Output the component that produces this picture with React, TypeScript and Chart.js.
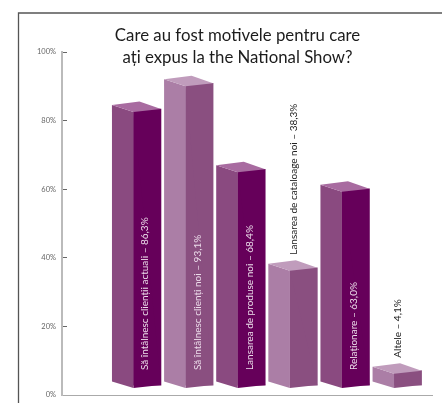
import React, { useEffect, useRef } from "react";
import { Chart, registerables } from "chart.js";

Chart.register(...registerables);

const titleLines = ["Care au fost motivele pentru care", "ați expus la the National Show?"];
const categories = [
  "Să întâlnesc clienții actuali",
  "Să întâlnesc clienți noi",
  "Lansarea de produse noi",
  "Lansarea de cataloage noi",
  "Relaționare",
  "Altele",
];
const labelPercents = ["86,3", "93,1", "68,4", "38,3", "63,0", "4,1"];
const barTops = [83.4, 90.9, 65.8, 37.1, 60.1, 7.1];
const barPositions = [1, 2, 3, 4, 5, 6];
const yTicks = [0, 20, 40, 60, 80, 100];
const labelInside = [true, true, true, false, true, false];

const darkSet = { front: "#66005a", side: "#8a4a80", top: "#a86ba0" };
const lightSet = { front: "#8a4f80", side: "#ab7ea6", top: "#c09cbc" };
const barSets = [darkSet, lightSet, darkSet, lightSet, darkSet, lightSet];

const FONT = "Lato";

const poly = (ctx: CanvasRenderingContext2D, pts: number[][], color: string) => {
  ctx.fillStyle = color;
  ctx.beginPath();
  pts.forEach(([x, y], i) => (i ? ctx.lineTo(x, y) : ctx.moveTo(x, y)));
  ctx.closePath();
  ctx.fill();
};

const framePlugin = {
  id: "frame",
  beforeDraw(chart: any) {
    const { ctx, width, height } = chart;
    ctx.save();
    ctx.fillStyle = "#fff";
    ctx.fillRect(0, 0, width, height);
    ctx.strokeStyle = "#555";
    ctx.lineWidth = 1.3;
    ctx.beginPath();
    ctx.moveTo(18.5, height);
    ctx.lineTo(18.5, 13);
    ctx.lineTo(width, 13);
    ctx.stroke();
    ctx.restore();
  },
};

const prismPlugin = {
  id: "prism",
  afterDatasetsDraw(chart: any) {
    const { ctx } = chart;
    const meta = chart.getDatasetMeta(0);
    ctx.save();
    meta.data.forEach((bar: any, i: number) => {
      const set = barSets[i];
      const w = bar.width;
      const r = bar.x + w / 2;
      const l = bar.x - w / 2;
      const t = bar.y;
      const b = bar.base;
      const sd = 21.5;
      poly(ctx, [[l, t + 3], [l, b + 3], [r, b]], set.front);
      poly(ctx, [[l - sd, t - 4], [l, t + 3], [l, b + 3], [l - sd, b - 3.5]], set.side);
      poly(ctx, [[l - sd, t - 4], [l, t + 3], [r, t], [l + 6, t - 7.5]], set.top);

      const text = `${categories[i]} – ${labelPercents[i]}%`;
      ctx.save();
      ctx.font = `10px ${FONT}`;
      ctx.textBaseline = "middle";
      ctx.textAlign = "left";
      if (labelInside[i]) {
        ctx.translate(bar.x - 2, b - 15);
        ctx.fillStyle = "#ecdcea";
      } else {
        ctx.translate(bar.x - 10, t - 13);
        ctx.fillStyle = "#222";
      }
      ctx.rotate(-Math.PI / 2);
      ctx.fillText(text, 0, 0);
      ctx.restore();
    });
    ctx.restore();
  },
};

export default function App() {
  const ref = useRef<HTMLCanvasElement>(null);
  useEffect(() => {
    const chart = new Chart(ref.current!, {
      type: "bar",
      data: {
        datasets: [
          {
            data: barPositions.map((x, i) => ({ x, y: barTops[i] })),
            base: 2.9,
            barThickness: 27.5,
            backgroundColor: barSets.map((s) => s.front),
            borderWidth: 0,
          },
        ],
      },
      options: {
        responsive: false,
        animation: false,
        layout: { padding: { left: 33, right: 0, top: 0, bottom: 8 } },
        plugins: {
          legend: { display: false },
          tooltip: { enabled: false },
          title: {
            display: true,
            text: titleLines,
            color: "#1c1c1c",
            font: { family: FONT, size: 16.8, weight: "normal", lineHeight: 1.34 },
            padding: { top: 24, bottom: -17 },
          },
        },
        scales: {
          x: {
            type: "linear",
            offset: false,
            min: -0.635,
            max: 6.464,
            afterFit: (s: any) => {
              s.height = 0;
            },
            ticks: { display: false },
            grid: { display: false },
            border: { color: "#aaa", width: 1 },
          },
          y: {
            min: 0,
            max: 100,
            afterFit: (s: any) => {
              s.width = 29;
              s.paddingTop = 0;
              s.paddingBottom = 0;
            },
            afterBuildTicks: (s: any) => {
              s.ticks = yTicks.map((value) => ({ value }));
            },
            ticks: {
              color: "#666",
              font: { family: FONT, size: 7.5 },
              padding: 11,
              callback: (v: any) => `${v}%`,
            },
            grid: { drawOnChartArea: false, tickLength: -5, tickColor: "#666", tickWidth: 1 },
            border: { color: "#bbb", width: 2 },
          },
          rightSpacer: {
            type: "linear",
            position: "right",
            afterFit: (s: any) => {
              s.width = 10;
            },
            ticks: { display: false },
            grid: { display: false },
            border: { display: false },
          },
        },
      },
      plugins: [framePlugin, prismPlugin],
    } as any);
    return () => chart.destroy();
  }, []);
  return (
    <div style={{ position: "absolute", left: 0, top: 0, width: 442, height: 403 }}>
      <canvas ref={ref} width={442} height={403} style={{ display: "block" }} />
    </div>
  );
}
